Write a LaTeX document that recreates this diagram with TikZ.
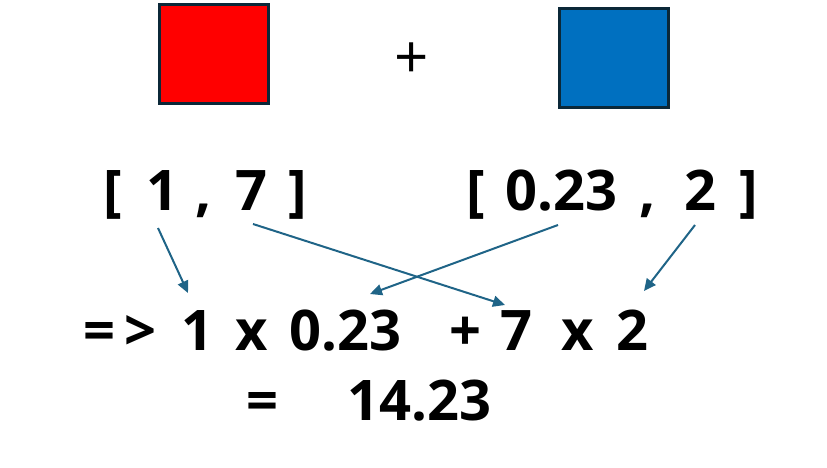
\documentclass[tikz,border=0pt]{standalone}
\usepackage{fontspec}
\setmainfont{Open Sans}
\usetikzlibrary{positioning,arrows.meta}

\definecolor{boxred}{RGB}{255,0,0}
\definecolor{boxblue}{RGB}{0,112,192}
\definecolor{edge}{RGB}{11,40,56}
\definecolor{arrowblue}{RGB}{31,100,135}

\begin{document}
\begin{tikzpicture}[
  x=1pt, y=-1pt,
  >={Triangle[length=12pt,width=11pt]},
  every node/.style={inner sep=0pt, outer sep=0pt},
  big/.style={font=\fontsize{56}{60}\selectfont\bfseries},
  square/.style={draw=edge, line width=3pt, minimum width=109pt, minimum height=99pt},
  link/.style={->, draw=arrowblue, line width=2pt}
]
\useasboundingbox (0,0) rectangle (827,468);

% the two squares
\node[square, fill=boxred]  (red)  at (214,54) {};
\node[square, fill=boxblue] (blue) at (614,58.5) {};
\node[font=\fontsize{60}{62}\selectfont] (plus) at (412,61) {+};

% vectors
\node[big, anchor=base] (vecA) at (205,210)
  {[\hspace{25pt}1\hspace{17pt},\hspace{23pt}7\hspace{21pt}]};
\node[big, anchor=base] (vecB) at (612,210)
  {[\hspace{21pt}0.23\hspace{22pt},\hspace{28pt}2\hspace{23pt}]};

% result
\node[big, anchor=base west] (sum) at (83,350)
  {=\hspace{10pt}>\hspace{25pt}1\hspace{22pt}x\hspace{21pt}0.23\hspace{48pt}+\hspace{19pt}7\hspace{29pt}x\hspace{23pt}2};
\node[big, anchor=base west] (res) at (246,420) {=\hspace{70pt}14.23};

\coordinate (oneS)  at (158,228);
\coordinate (sevS)  at (253,224);
\coordinate (ptS)   at (558,225);
\coordinate (twoS)  at (695,225);
\coordinate (oneE)  at (188,293);
\coordinate (sevE)  at (505,305);
\coordinate (ptE)   at (370,294);
\coordinate (twoE)  at (644,291);

\draw[link] (oneS) -- (oneE);
\draw[link] (sevS) -- (sevE);
\draw[link] (ptS)  -- (ptE);
\draw[link] (twoS) -- (twoE);

\end{tikzpicture}
\end{document}
